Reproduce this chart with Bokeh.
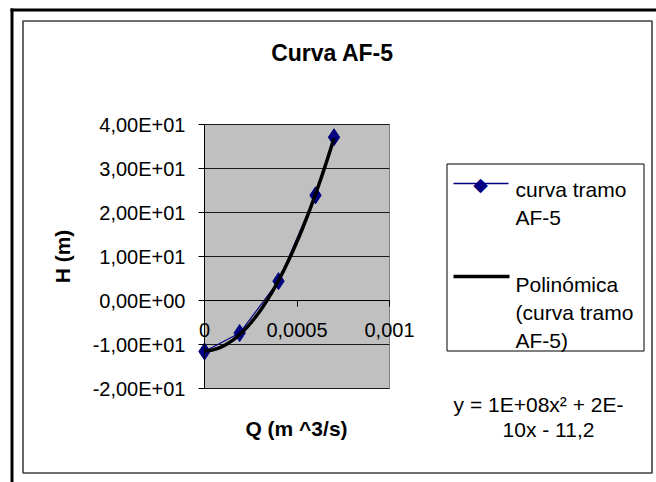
import numpy as np
from bokeh.plotting import figure
from bokeh.models import FixedTicker, Label, BoxAnnotation, Arrow, Range1d
from bokeh.embed import file_html
from bokeh.resources import INLINE

# ---------------- data ----------------
title_text = "Curva AF-5"
x_title = "Q (m ^3/s)"
y_title = "H (m)"
q_values = [0.0, 0.00019, 0.0004, 0.0006, 0.0007]
h_values = [-11.6, -7.4, 4.4, 23.9, 37.1]
x_ticks = [0, 0.0005, 0.001]
x_tick_labels = ["0", "0,0005", "0,001"]
y_ticks = [-20, -10, 0, 10, 20, 30, 40]
y_tick_labels = ["-2,00E+01", "-1,00E+01", "0,00E+00", "1,00E+01",
                 "2,00E+01", "3,00E+01", "4,00E+01"]
x_min, x_max = 0.0, 0.001
y_min, y_max = -20.0, 40.0
series_label_lines = ["curva tramo", "AF-5"]
trend_label_lines = ["Polinómica", "(curva tramo", "AF-5)"]
equation_lines = ["y = 1E+08x\u00b2 + 2E-", "10x - 11,2"]

FONT = "Liberation Sans"
NAVY = "#000080"
W, H = 656, 482
# plot-area box on the canvas (pixels)
PA_L, PA_R, PA_T, PA_B = 204, 389, 124, 388

# trendline (2nd-order polynomial fit of the series)
coef = np.polyfit(q_values, h_values, 2)
q_fit = np.linspace(min(q_values), max(q_values), 120)
h_fit = np.polyval(coef, q_fit)

# ranges chosen so that the plot area sits at PA_* while the frame fills the canvas
dx = (x_max - x_min) / (PA_R - PA_L)
dy = (y_max - y_min) / (PA_B - PA_T)
x_range = Range1d(x_min - PA_L * dx, x_max + (W - PA_R) * dx)
y_range = Range1d(y_min - (H - PA_B) * dy, y_max + PA_T * dy)

p = figure(width=W, height=H, output_backend="svg", toolbar_location=None,
           x_range=x_range, y_range=y_range,
           min_border_left=0, min_border_right=0, min_border_top=0, min_border_bottom=0)
p.title.visible = False
p.background_fill_color = "white"
p.border_fill_color = "white"
p.outline_line_color = None
p.xgrid.visible = False
p.ygrid.visible = False


def sx(px):
    return px


def sy(py):
    return H - py


def seg(x0, y0, x1, y1, color, width):
    p.add_layout(Arrow(x_start=sx(x0), y_start=sy(y0), x_end=sx(x1), y_end=sy(y1),
                       start_units="screen", end_units="screen", end=None,
                       line_color=color, line_width=width))


# chart frames
seg(10, 9.5, 656, 9.5, "black", 3)
seg(11.5, 8, 11.5, 482, "black", 3)
p.add_layout(BoxAnnotation(left=sx(22.5), right=sx(651.5), top=sy(20.5), bottom=sy(472.5),
                           left_units="screen", right_units="screen",
                           top_units="screen", bottom_units="screen",
                           fill_color=None, line_color="#404040", line_alpha=1,
                           line_width=1.6))

# plot area and gridlines
p.quad(left=[x_min], right=[x_max], bottom=[y_min], top=[y_max],
       fill_color="#C0C0C0", line_color="#808080", line_width=1)
p.segment(x0=[x_min] * len(y_ticks), y0=y_ticks, x1=[x_max] * len(y_ticks), y1=y_ticks,
          line_color="#1a1a1a", line_width=1)

# y axis
ya = p.yaxis[0]
ya.fixed_location = x_min
ya.bounds = (y_min, y_max)
ya.ticker = FixedTicker(ticks=y_ticks)
ya.major_label_overrides = {t: l for t, l in zip(y_ticks, y_tick_labels)}
ya.major_label_text_font = FONT
ya.major_label_text_font_size = "20px"
ya.major_label_text_color = "black"
ya.major_label_standoff = 13
ya.major_tick_out = 6
ya.major_tick_in = 0
ya.minor_tick_line_color = None
ya.axis_line_color = "black"
ya.major_tick_line_color = "black"
ya.axis_label = y_title
ya.axis_label_text_font = FONT
ya.axis_label_text_font_style = "bold"
ya.axis_label_text_font_size = "21px"
ya.axis_label_text_color = "black"
ya.axis_label_standoff = 16

# x axis crossing at H = 0
xa = p.xaxis[0]
xa.fixed_location = 0
xa.bounds = (x_min, x_max)
xa.ticker = FixedTicker(ticks=x_ticks)
xa.major_label_overrides = {t: l for t, l in zip(x_ticks, x_tick_labels)}
xa.major_label_text_font = FONT
xa.major_label_text_font_size = "20px"
xa.major_label_text_color = "black"
xa.major_label_standoff = 16
xa.major_tick_out = 6
xa.major_tick_in = 0
xa.minor_tick_line_color = None
xa.axis_line_color = "black"
xa.major_tick_line_color = "black"

# series
p.line(q_values, h_values, line_color=NAVY, line_width=1.2)
p.scatter(q_values, h_values, marker="diamond", size=17, fill_color=NAVY,
          line_color=NAVY)
p.line(q_fit, h_fit, line_color="black", line_width=3.5)

# legend box
p.add_layout(BoxAnnotation(left=sx(446.5), right=sx(643.5), top=sy(163.5), bottom=sy(350.5),
                           left_units="screen", right_units="screen",
                           top_units="screen", bottom_units="screen",
                           fill_color="white", fill_alpha=1, line_color="black",
                           line_alpha=1, line_width=1))

# title and x title
p.add_layout(Label(x=sx(332), y=sy(52), x_units="screen", y_units="screen",
                   text=title_text, text_align="center", text_baseline="middle",
                   text_font=FONT, text_font_style="bold", text_font_size="23px",
                   text_color="black"))
p.add_layout(Label(x=sx(296), y=sy(428), x_units="screen", y_units="screen",
                   text=x_title, text_align="center", text_baseline="middle",
                   text_font=FONT, text_font_style="bold", text_font_size="21px",
                   text_color="black"))

# legend symbols
seg(453, 183, 508, 183, NAVY, 1.5)
p.add_layout(Label(x=sx(480), y=sy(183), x_units="screen", y_units="screen",
                   text="\u25c6", text_align="center", text_baseline="middle",
                   text_font="DejaVu Sans", text_font_size="19px", text_color=NAVY))
seg(453, 276, 509, 276, "black", 3.5)

# legend texts
for i, t in enumerate(series_label_lines):
    p.add_layout(Label(x=sx(515), y=sy(189 + 28 * i), x_units="screen", y_units="screen",
                       text=t, text_align="left", text_baseline="alphabetic",
                       text_font=FONT, text_font_size="21px", text_color="black"))
for i, t in enumerate(trend_label_lines):
    p.add_layout(Label(x=sx(515), y=sy(284 + 28 * i), x_units="screen", y_units="screen",
                       text=t, text_align="left", text_baseline="alphabetic",
                       text_font=FONT, text_font_size="21px", text_color="black"))

# equation
for (t, cx, by) in zip(equation_lines, [538, 548], [404, 429]):
    p.add_layout(Label(x=sx(cx), y=sy(by), x_units="screen", y_units="screen",
                       text=t, text_align="center", text_baseline="alphabetic",
                       text_font=FONT, text_font_size="21px", text_color="black"))

open("out.html", "w").write(file_html(p, INLINE))
